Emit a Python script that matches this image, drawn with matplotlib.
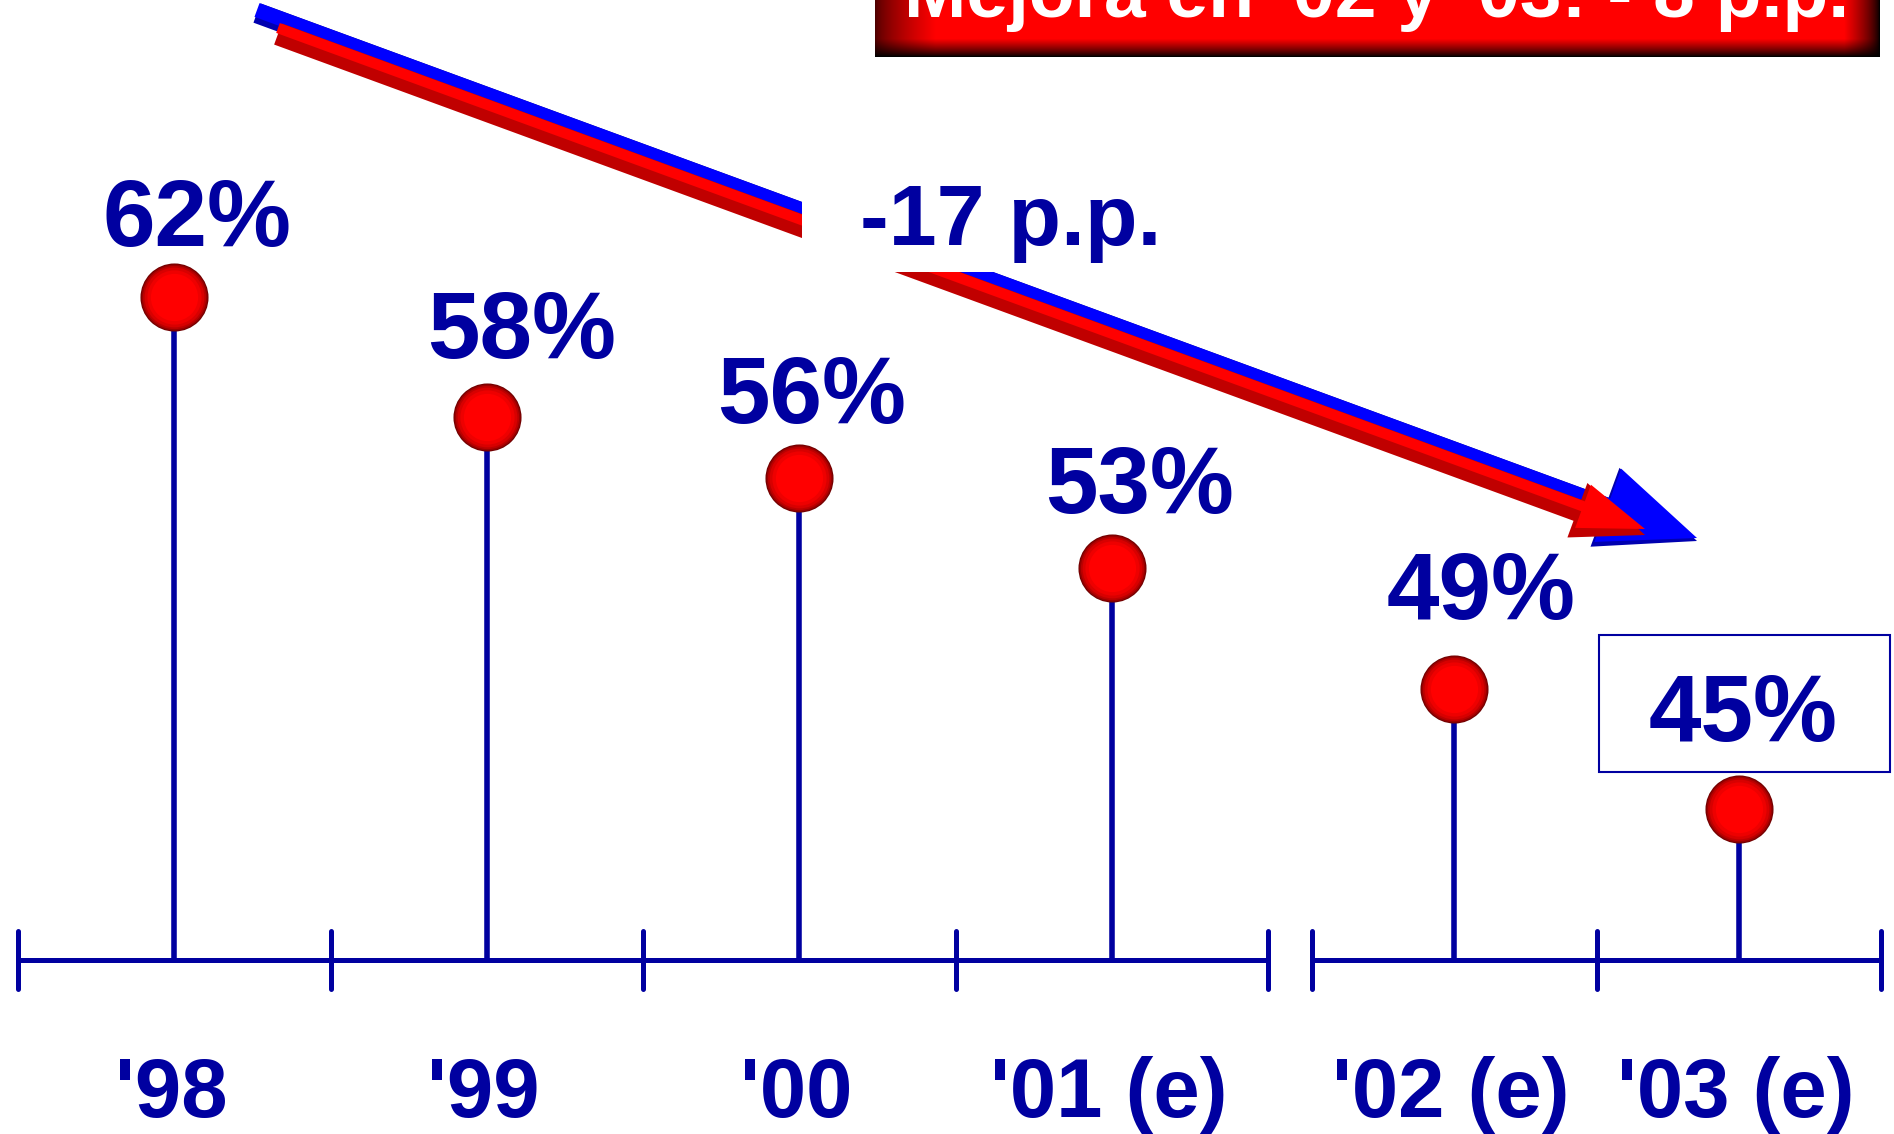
"""Lollipop chart: percentage decline '98 -> '03 (e) with a broken axis."""

import matplotlib
matplotlib.use("Agg")
import matplotlib.pyplot as plt
import numpy as np
from matplotlib import font_manager
from matplotlib.patches import FancyArrow, Rectangle

# ---- data -------------------------------------------------------------
years_a = ["'98", "'99", "'00", "'01 (e)"]
values_a = [62, 58, 56, 53]
years_b = ["'02 (e)", "'03 (e)"]
values_b = [49, 45]
change_label = "-17 p.p."
banner_label = "Mejora en '02 y '03: - 8 p.p."

# ---- style ------------------------------------------------------------
W, H, DPI = 1894, 1134, 100
NAVY = "#0000A0"
BASE = 40
PX_PER_UNIT = 30.14
PT = 72 / DPI  # points per pixel

_names = {f.name for f in font_manager.fontManager.ttflist}
NARROW = "Liberation Sans Narrow" if "Liberation Sans Narrow" in _names else "Liberation Sans"
plt.rcParams["font.family"] = ["Liberation Sans", "DejaVu Sans"]

# label offsets in pixels (dx, baseline above ball centre)
label_dx_a = [23, 35, 12, 28]
label_dy_a = [51, 59, 55, 55]
label_dx_b = [27, 4]
label_dy_b = [70, 68]

fig = plt.figure(figsize=(W / DPI, H / DPI), dpi=DPI)

# overlay in pixel coordinates for the decorations
ov = fig.add_axes([0, 0, 1, 1], zorder=0)
ov.set_xlim(0, W)
ov.set_ylim(H, 0)
ov.axis("off")

ylim = (BASE - (H - 960) / PX_PER_UNIT, BASE + 960 / PX_PER_UNIT)


def _panel(rect, years, values, dxs, dys):
    ax = fig.add_axes(rect, zorder=1)
    ax.patch.set_visible(False)
    ax.axis("off")
    n = len(years)
    ax.set_xlim(0, n)
    ax.set_ylim(*ylim)
    x = np.arange(n) + 0.5
    ax.hlines(BASE, 0, n, color=NAVY, lw=3.6, clip_on=False)
    ax.vlines(np.arange(n + 1), BASE - 0.95, BASE + 0.95, color=NAVY, lw=3.6,
              capstyle="round", clip_on=False)
    ax.vlines(x, BASE, values, color=NAVY, lw=4, zorder=2)
    for d, c in [(49, "#700000"), (47.5, "#980000"), (45.5, "#bb0000"),
                 (43, "#d80000"), (39, "#ee0000"), (34, "#ff0000")]:
        ax.scatter(x, values, s=d ** 2, color=c, linewidths=0, zorder=3)
    for xi, v, yr, dx, dy in zip(x, values, years, dxs, dys):
        ax.annotate(f"{v}%", xy=(xi, v), xytext=(dx * PT, dy * PT),
                    textcoords="offset points", ha="center", va="baseline",
                    fontsize=68, fontweight="bold", color=NAVY, zorder=4)
        ax.annotate(yr, xy=(xi, BASE), xytext=(-3 * PT, -157 * PT),
                    textcoords="offset points", ha="center", va="baseline",
                    fontsize=68 if NARROW != "Liberation Sans" else 60,
                    family=NARROW, fontweight="bold", color=NAVY)
    return ax


_panel([18 / W, 0, 1250 / W, 1], years_a, values_a, label_dx_a, label_dy_a)
_panel([1312 / W, 0, 569 / W, 1], years_b, values_b, label_dx_b, label_dy_b)

# box around the last value
ov.add_patch(Rectangle((1599, 635), 291, 137, facecolor="white",
                       edgecolor=NAVY, lw=1.5, zorder=1))


# trend arrows (blue behind, red in front), drawn as 3D-ish bands
def _arrow(tail, tip, width, hw, hl, dark, light, inset):
    (x0, y0), (x1, y1) = tail, tip
    ov.add_patch(FancyArrow(x0, y0, x1 - x0, y1 - y0, width=width,
                            head_width=hw, head_length=hl,
                            length_includes_head=True, color=dark, lw=0,
                            zorder=2))
    ov.add_patch(FancyArrow(x0, y0 - inset, x1 - x0, y1 - y0, width=width - 2 * inset,
                            head_width=hw - 2 * inset, head_length=hl - inset,
                            length_includes_head=True, color=light, lw=0,
                            zorder=2))


_arrow((257, 13), (1697, 541), 20.6, 84, 98, "#0000B0", "#0000FF", 3)
_arrow((278, 34), (1645, 535), 22.5, 58, 72, "#C00000", "#FF0000", 6)

# gap behind the change label
ov.add_patch(Rectangle((802, 130), 380, 142, facecolor="white",
                       edgecolor="none", zorder=3))
ov.text(860, 245, change_label, ha="left", va="baseline", fontsize=62,
        fontweight="bold", color=NAVY, zorder=4)

# red banner with dark bevel edges
bw, bh = 1005, 60
u = np.linspace(0, 1, bw)
t = np.linspace(0, 1, bh)
fl = 0.3 + 0.7 * np.clip(u / 0.06, 0, 1) ** 0.7
fr = np.clip((1 - u) / 0.035, 0, 1) ** 0.7
fb = np.clip((1 - t) / 0.3, 0, 1) ** 0.8
img = np.zeros((bh, bw, 3))
img[..., 0] = fb[:, None] * (fl * fr)[None, :]
ov.imshow(img, extent=(875, 1880, 57, -3), aspect="auto", zorder=2,
          interpolation="bilinear")
ov.set_xlim(0, W)
ov.set_ylim(H, 0)
ov.text(1377, 17, banner_label, ha="center", va="baseline",
        fontsize=65 if NARROW != "Liberation Sans" else 54,
        family=NARROW, fontweight="bold", color="white", zorder=3)

fig.savefig("out.png", dpi=DPI)
